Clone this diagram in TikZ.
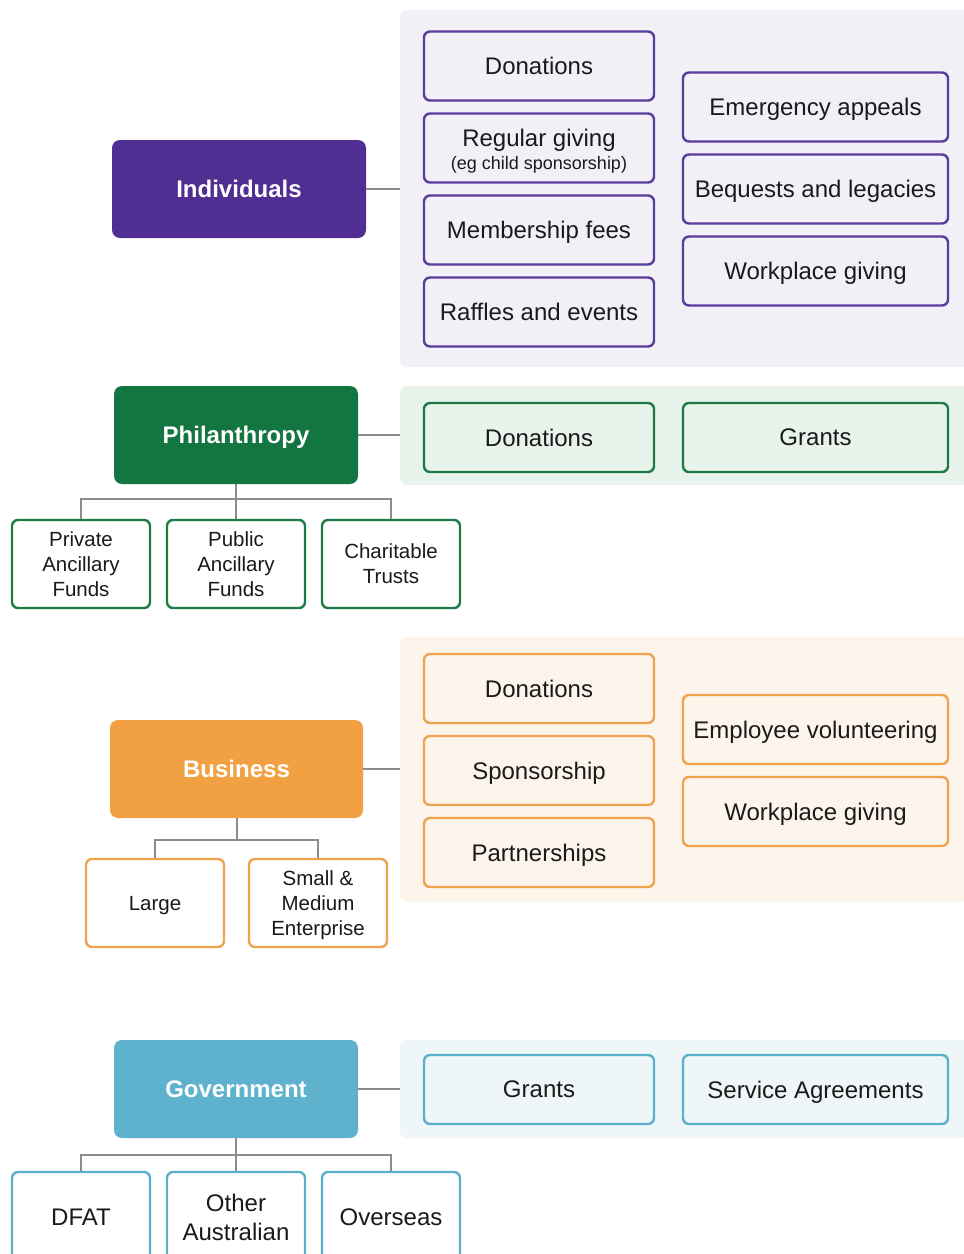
\documentclass[tikz,border=0pt]{standalone}
\usepackage{fontspec}
\setmainfont{Liberation Sans}
\definecolor{txt}{HTML}{1A1A1A}
\definecolor{conn}{HTML}{8C8C8C}
\definecolor{pur}{HTML}{512E92}
\definecolor{purb}{HTML}{5A3C9C}
\definecolor{purp}{HTML}{F1F0F6}
\definecolor{grn}{HTML}{137640}
\definecolor{grnb}{HTML}{1E7B45}
\definecolor{grnp}{HTML}{E8F3EB}
\definecolor{org}{HTML}{F1A142}
\definecolor{orgb}{HTML}{F0A34F}
\definecolor{orgp}{HTML}{FDF5EC}
\definecolor{blu}{HTML}{5EB2CD}
\definecolor{blub}{HTML}{5BB0CC}
\definecolor{blup}{HTML}{EEF6F8}
\tikzset{
  panel/.style={draw=none, fill=#1, rounded corners=7pt, inner sep=0pt, minimum width=570pt},
  head/.style={fill=#1, draw=none, rounded corners=8pt, inner sep=0pt, minimum height=98pt,
    text=white, text depth=0pt, font=\fontsize{24}{29}\selectfont\bfseries},
  item/.style={draw=#1, line width=2.4pt, rounded corners=6pt, inner sep=0pt, minimum height=69pt,
    text=txt, text depth=0pt, align=center, font=\fontsize{24}{29}\selectfont},
  lw/.style={minimum width=230pt},
  rw/.style={minimum width=265pt},
  sub/.style={draw=#1, fill=white, line width=2.4pt, rounded corners=6pt, inner sep=0pt,
    minimum width=138pt, minimum height=88pt, text=txt, text depth=0pt, align=center,
    font=\fontsize{20.5}{25}\selectfont},
  link/.style={draw=conn, line width=2pt},
}
\begin{document}
\begin{tikzpicture}[x=1pt,y=-1pt]
\useasboundingbox (0,0) rectangle (964,1254);
% ---------------- Individuals
\node[panel=purp, minimum height=357pt] (ip) at (685,188.5) {};
\node[head=pur, minimum width=254pt] (ind) at (239,189) {Individuals};
\node[item=purb, fill=purp, lw] (i1) at (539,66) {Donations};
\node[item=purb, fill=purp, lw] (i2) at (539,148) {};
\node[text=txt, align=center, font=\fontsize{24}{29}\selectfont, text depth=0pt, inner sep=0pt, yshift=-1.5pt] (i2t) at (i2.center)
  {Regular giving\\[-6pt]{\fontsize{18}{21}\selectfont (eg child sponsorship)}};
\node[item=purb, fill=purp, lw] (i3) at (539,230) {Membership fees};
\node[item=purb, fill=purp, lw] (i4) at (539,312) {Raffles and events};
\node[item=purb, fill=purp, rw] (i5) at (815.5,107) {Emergency appeals};
\node[item=purb, fill=purp, rw] (i6) at (815.5,189) {Bequests and legacies};
\node[item=purb, fill=purp, rw] (i7) at (815.5,271) {Workplace giving};
\draw[link] (ind.east) -- (ind.east -| ip.west);
% ---------------- Philanthropy
\node[panel=grnp, minimum height=99pt] (pp) at (685,435.5) {};
\node[head=grn, minimum width=244pt] (phil) at (236,435) {Philanthropy};
\node[item=grnb, fill=grnp, lw] (p4) at (539,437.5) {Donations};
\node[item=grnb, fill=grnp, rw] (p5) at (815.5,437.5) {Grants};
\draw[link] (phil.east) -- (phil.east -| pp.west);
\node[sub=grnb] (p1) at (81,564) {Private\\Ancillary\\Funds};
\node[sub=grnb] (p2) at (236,564) {Public\\Ancillary\\Funds};
\node[sub=grnb] (p3) at (391,564) {Charitable\\Trusts};
\coordinate (pj) at (236,499);
\draw[link] (phil.south) -- (pj);
\draw[link] (pj) -| (p1.north);
\draw[link] (pj) -| (p3.north);
\draw[link] (pj) -- (p2.north);
% ---------------- Business
\node[panel=orgp, minimum height=265pt] (bp) at (685,769.5) {};
\node[head=org, minimum width=253pt] (bus) at (236.5,769) {Business};
\node[item=orgb, fill=orgp, lw] (b1) at (539,688.5) {Donations};
\node[item=orgb, fill=orgp, lw] (b2) at (539,770.5) {Sponsorship};
\node[item=orgb, fill=orgp, lw] (b3) at (539,852.5) {Partnerships};
\node[item=orgb, fill=orgp, rw] (b4) at (815.5,729.5) {Employee volunteering};
\node[item=orgb, fill=orgp, rw] (b5) at (815.5,811.5) {Workplace giving};
\draw[link] (bus.east) -- (bus.east -| bp.west);
\node[sub=orgb] (s1) at (155,903) {Large};
\node[sub=orgb] (s2) at (318,903) {Small \&\\Medium\\Enterprise};
\coordinate (bj) at (236.5,840);
\draw[link] (bus.south) -- (bj);
\draw[link] (bj) -| (s1.north);
\draw[link] (bj) -| (s2.north);
% ---------------- Government
\node[panel=blup, minimum height=98pt] (gp) at (685,1089) {};
\node[head=blu, minimum width=244pt] (gov) at (236,1089) {Government};
\node[item=blub, fill=blup, lw] (g4) at (539,1089.5) {Grants};
\node[item=blub, fill=blup, rw] (g5) at (815.5,1089.5) {Service Agreements};
\draw[link] (gov.east) -- (gov.east -| gp.west);
\node[sub=blub, minimum height=90pt, font=\fontsize{24}{29}\selectfont] (g1) at (81,1217) {DFAT};
\node[sub=blub, minimum height=90pt, font=\fontsize{24}{29}\selectfont] (g2) at (236,1217) {Other\\Australian};
\node[sub=blub, minimum height=90pt, font=\fontsize{24}{29}\selectfont] (g3) at (391,1217) {Overseas};
\coordinate (gj) at (236,1155);
\draw[link] (gov.south) -- (gj);
\draw[link] (gj) -| (g1.north);
\draw[link] (gj) -| (g3.north);
\draw[link] (gj) -- (g2.north);
\end{tikzpicture}
\end{document}
